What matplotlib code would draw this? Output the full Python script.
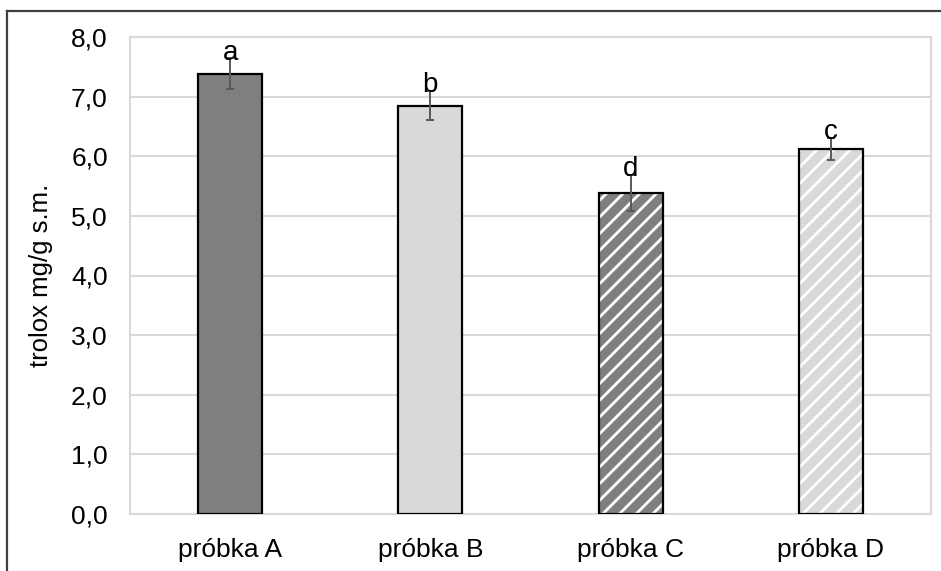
import matplotlib
matplotlib.use("Agg")
import matplotlib.pyplot as plt
from matplotlib.ticker import FuncFormatter, MultipleLocator
from matplotlib.lines import Line2D

plt.rcParams['font.family'] = ['Liberation Sans', 'DejaVu Sans']
plt.rcParams['hatch.linewidth'] = 2.0

categories = ['próbka A', 'próbka B', 'próbka C', 'próbka D']
values = [7.38, 6.85, 5.39, 6.12]
errors = [0.26, 0.25, 0.30, 0.19]
letters = ['a', 'b', 'd', 'c']
face_colors = ['#7f7f7f', '#d9d9d9', '#7f7f7f', '#d9d9d9']
hatches = [None, None, '//', '//']

fig = plt.figure(figsize=(9.41, 5.71), dpi=100)
ax = fig.add_axes([130 / 941, 1 - 514 / 571, 801 / 941, 477 / 571])

x = list(range(len(categories)))
width = 0.32

for xi, v, fc, h in zip(x, values, face_colors, hatches):
    if h:
        ax.bar(xi, v, width=width, color=fc, hatch=h, edgecolor='white',
               linewidth=0, zorder=2)
        ax.bar(xi, v, width=width, fill=False, edgecolor='black',
               linewidth=1.6, zorder=3)
    else:
        ax.bar(xi, v, width=width, color=fc, edgecolor='black',
               linewidth=1.6, zorder=3)

ax.errorbar(x, values, yerr=errors, fmt='none', ecolor='#595959',
            elinewidth=1.4, capsize=3, capthick=1.4, zorder=4)

for xi, v, e, lab in zip(x, values, errors, letters):
    ax.text(xi, v + e - 0.02, lab, ha='center', va='baseline',
            fontsize=20, color='black', zorder=5)

ax.set_ylim(0, 8)
ax.set_xlim(-0.5, len(categories) - 0.5)
ax.yaxis.set_major_locator(MultipleLocator(1))
ax.yaxis.set_major_formatter(FuncFormatter(lambda v, p: f"{v:.1f}".replace('.', ',')))
ax.set_xticks(x)
ax.set_xticklabels(categories)
ax.tick_params(axis='both', length=0, labelsize=19, colors='black')
ax.tick_params(axis='y', pad=16)
ax.tick_params(axis='x', pad=17)
ax.grid(axis='y', color='#d9d9d9', linewidth=1.5, zorder=0)
ax.set_axisbelow(True)
for s in ax.spines.values():
    s.set_color('#d9d9d9')
    s.set_linewidth(1.5)

ax.set_ylabel('trolox mg/g s.m.', fontsize=18.5, labelpad=13)

# outer frame (left and top edges)
fig.add_artist(Line2D([7 / 941, 7 / 941], [0, 1 - 11 / 571],
                      transform=fig.transFigure, color='#404040', linewidth=1.6))
fig.add_artist(Line2D([7 / 941, 1], [1 - 11 / 571, 1 - 11 / 571],
                      transform=fig.transFigure, color='#404040', linewidth=1.6))

fig.savefig('out.png', dpi=100)
